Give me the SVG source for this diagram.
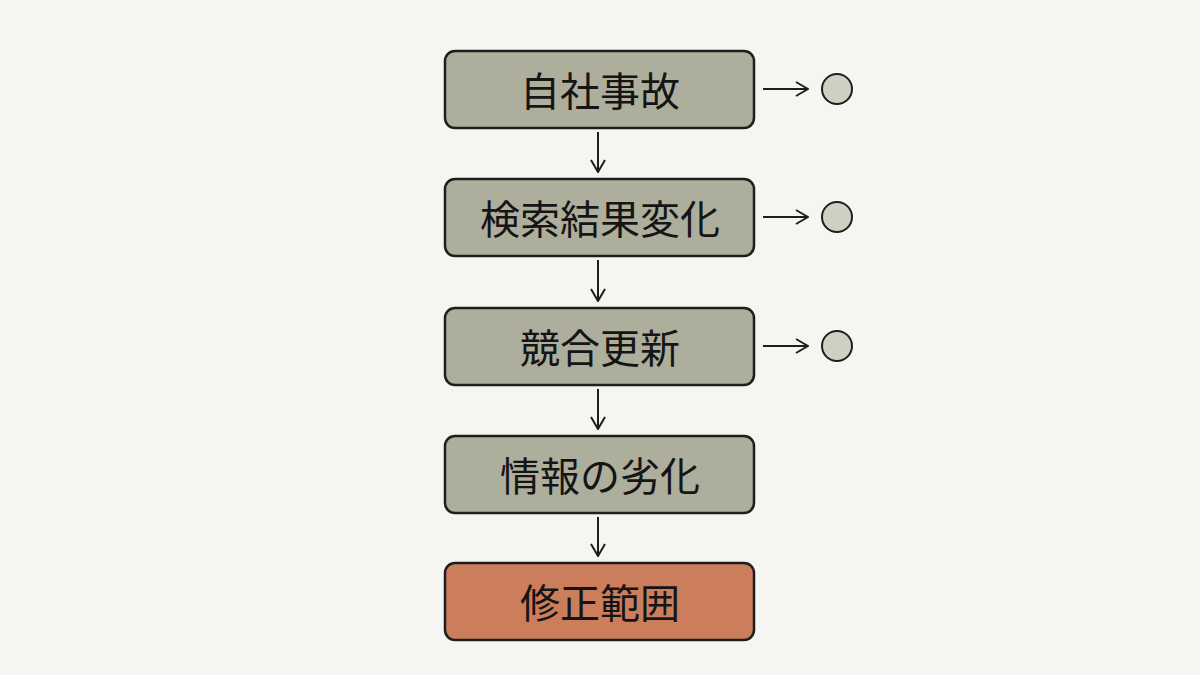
<svg xmlns="http://www.w3.org/2000/svg" width="1200" height="675" viewBox="0 0 1200 675">
<defs>
<style>
.box{fill:#aeae9c;stroke:#1e1e1e;stroke-width:2.5}
.hot{fill:#cc7e5c;stroke:#1e1e1e;stroke-width:2.5}
.t{font-family:"Noto Sans CJK JP",sans-serif;font-size:40px;fill:#151515;text-anchor:middle;dominant-baseline:central}
.c{stroke:#1e1e1e;stroke-width:2;fill:none}
.dot{fill:#cfcfc4;stroke:#1e1e1e;stroke-width:2}
</style>
<marker id="ah" viewBox="0 0 14 16" refX="13" refY="8" markerWidth="14" markerHeight="16" markerUnits="userSpaceOnUse" orient="auto"><path d="M1,1 L13,8 L1,15" fill="none" stroke="#1e1e1e" stroke-width="2"/></marker>
</defs>
<rect width="1200" height="675" fill="#f5f6f1"/>
<g id="n1"><rect class="box" x="445" y="51" width="309" height="77" rx="10"/><text class="t" x="600" y="89">自社事故</text></g>
<g id="n2"><rect class="box" x="445" y="179" width="309" height="77" rx="10"/><text class="t" x="600" y="217">検索結果変化</text></g>
<g id="n3"><rect class="box" x="445" y="308" width="309" height="77" rx="10"/><text class="t" x="600" y="346">競合更新</text></g>
<g id="n4"><rect class="box" x="445" y="436" width="309" height="77" rx="10"/><text class="t" x="600" y="474">情報の劣化</text></g>
<g id="n5"><rect class="hot" x="445" y="563" width="309" height="77" rx="10"/><text class="t" x="600" y="601">修正範囲</text></g>
<g id="d1"><circle class="dot" cx="837" cy="89" r="15"/></g>
<g id="d2"><circle class="dot" cx="837" cy="217" r="15"/></g>
<g id="d3"><circle class="dot" cx="837" cy="346" r="15"/></g>
<g id="connectors">
<path class="c" d="M598,132 V172" marker-end="url(#ah)"/>
<path class="c" d="M598,260 V301" marker-end="url(#ah)"/>
<path class="c" d="M598,389 V429" marker-end="url(#ah)"/>
<path class="c" d="M598,517 V556" marker-end="url(#ah)"/>
<path class="c" d="M763,89 H808" marker-end="url(#ah)"/>
<path class="c" d="M763,217 H808" marker-end="url(#ah)"/>
<path class="c" d="M763,346 H808" marker-end="url(#ah)"/>
</g>
</svg>
